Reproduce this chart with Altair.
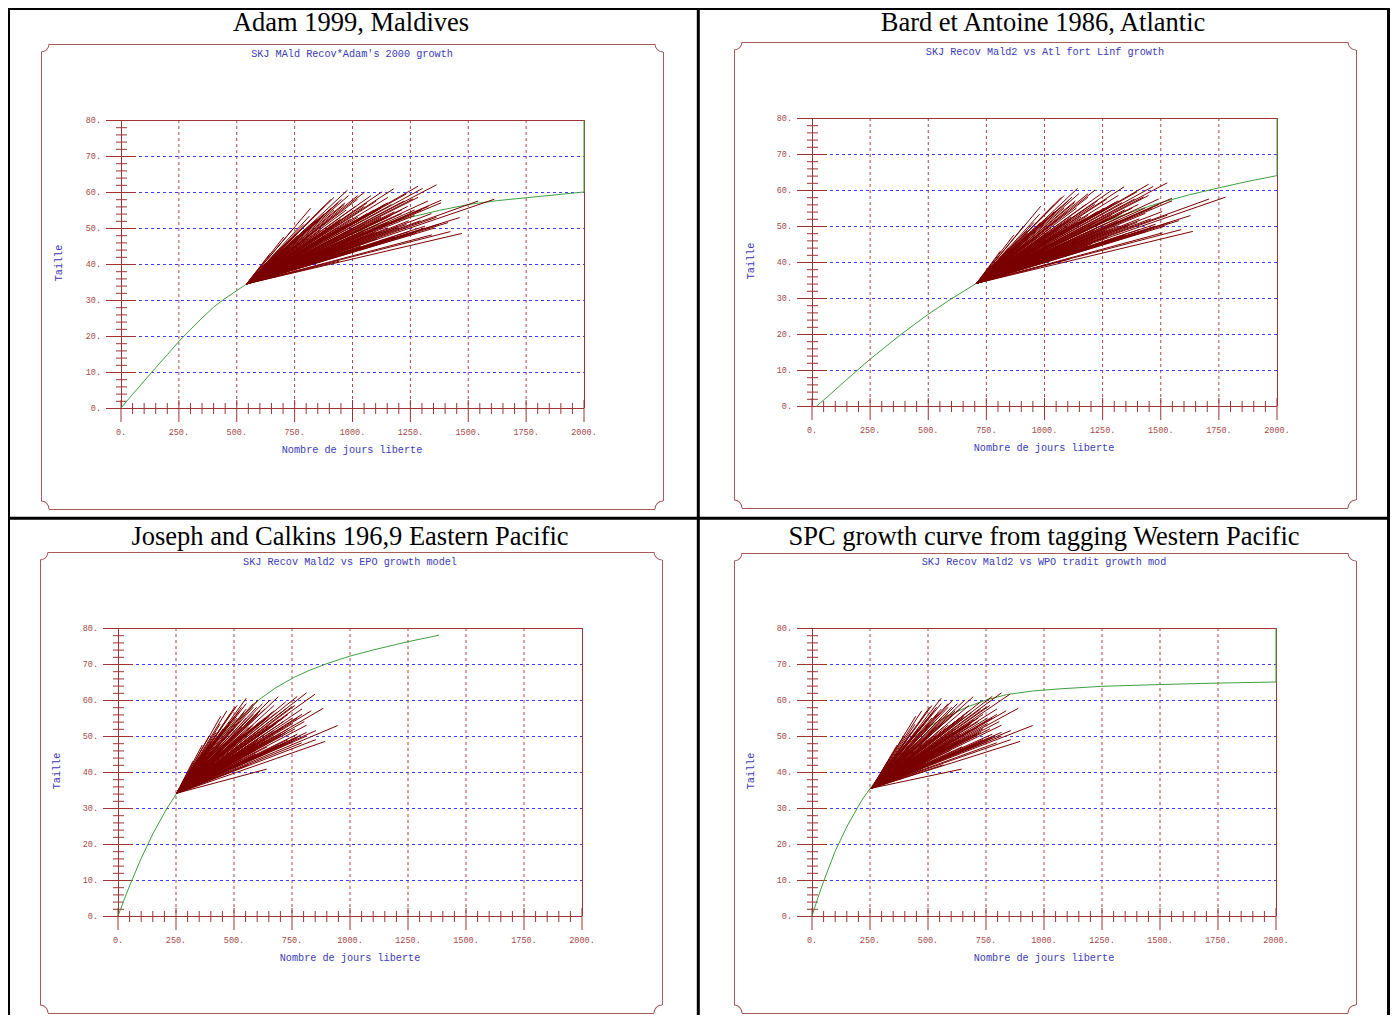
import altair as alt
import pandas as pd
import math

W, H = 1382, 1007
OX, OY = 8, 8           # page offset of the chart (image px -> chart px)
MONO = "Liberation Mono"
SERIF = "Liberation Serif"
AX = "#9c3434"
LBL = "#a44a4a"
BLUE_TXT = "#3a3ab8"
GRID_B = "#3a3aff"
GRID_R = "#a84848"
SEG = "#7a0000"
GREEN = "#3f9f3f"
FRAME = "#a65a5a"

# ---------------- texts ----------------
TITLES = ["Adam 1999, Maldives",
          "Bard et Antoine  1986, Atlantic",
          "Joseph and Calkins 196,9 Eastern Pacific",
          "SPC growth curve from tagging Western Pacific"]
SUBTITLES = ["SKJ MAld Recov*Adam's 2000 growth",
             "SKJ Recov Mald2 vs Atl fort Linf growth",
             "SKJ Recov Mald2 vs EPO growth model",
             "SKJ Recov Mald2 vs WPO tradit growth mod"]
X_LABEL = "Nombre de jours liberte"
Y_LABEL = "Taille"

X_TICKS = [0, 250, 500, 750, 1000, 1250, 1500, 1750, 2000]
X_TICK_LABELS = ["0.", "250.", "500.", "750.", "1000.", "1250.", "1500.", "1750.", "2000."]
X_MINOR = [v for v in range(0, 2001, 50) if v % 250 != 0]
Y_TICKS = [0, 10, 20, 30, 40, 50, 60, 70, 80]
Y_TICK_LABELS = ["0.", "10.", "20.", "30.", "40.", "50.", "60.", "70.", "80."]
Y_MINOR = [v for v in range(0, 81, 2) if v % 10 != 0]

# ---------------- growth curves ----------------
CURVE_X_1 = [0, 50, 100, 150, 200, 250, 300, 350, 400, 442, 500, 543, 600, 650, 750, 850,
             1000, 1100, 1250, 1375, 1508, 1625, 1750, 1875, 2000, 2000]
CURVE_L_1 = [0, 3.8, 7.5, 11.2, 14.8, 18.5, 21.8, 25, 28, 30.1, 32.6, 34.5, 36.7, 38.6, 42, 44.8,
             48.5, 50.5, 53, 54.9, 56.6, 57.6, 58.4, 59.2, 60, 80]
CURVE_X_2 = [20, 60, 100, 175, 250, 375, 500, 600, 708, 850, 1000, 1125, 1250, 1375, 1500,
             1625, 1750, 1875, 2000, 2000]
CURVE_L_2 = [0, 2.2, 4.5, 8.8, 13, 19.5, 25.5, 29.8, 34.1, 39.3, 44, 47.7, 51, 53.9, 56.5,
             58.7, 60.6, 62.4, 64, 80]
CURVE_X_3 = [0, 25, 50, 100, 150, 210, 253, 300, 350, 420, 497, 550, 612, 680, 756, 820, 900,
             1000, 1100, 1250, 1384]
CURVE_L_3 = [0, 4.3, 8.4, 16, 22.8, 29.8, 34.1, 38.5, 43, 48.3, 53.3, 56.5, 60.3, 63.4, 66.2,
             68.1, 70.1, 72.2, 73.9, 76.2, 78]
CURVE_X_4 = [0, 25, 50, 100, 150, 214, 257, 300, 350, 420, 500, 580, 667, 750, 839, 950, 1069,
             1250, 1500, 1750, 2000, 2000]
CURVE_L_4 = [0, 5, 9.6, 18, 24.8, 32.1, 36, 39.8, 44, 48.8, 52.5, 55.4, 58, 60, 61.5, 62.5, 63.1,
             63.8, 64.3, 64.7, 65, 80]
CURVES = [(CURVE_X_1, CURVE_L_1), (CURVE_X_2, CURVE_L_2),
          (CURVE_X_3, CURVE_L_3), (CURVE_X_4, CURVE_L_4)]

# ---------------- recaptures ----------------
FAN_ORIGIN_DAY = [543, 708, 253, 257]
FAN_ORIGIN_LEN = [34.5, 34.1, 34.1, 35.5]
RECAP_LEN = [57.0, 53.3, 48.7, 46, 44, 42, 40, 39, 43, 47.5,
             50, 51, 52, 53.5, 55, 56.5, 58, 59, 60, 60.9,
             58.1, 61.6, 57.7, 52.9, 48.1, 40.8, 42.0, 44, 46, 47,
             49, 50.5, 51.5, 52.5, 53.5, 55, 56, 54.5, 53, 52,
             51, 50, 49, 48, 47, 45.5, 44.5, 41.5, 42.5, 43.5,
             45, 46.5, 48, 50, 51.5, 49.5, 50, 55, 56, 54,
             52.5, 57, 57.5, 60.5, 58.5, 56, 55.5, 48.5, 47.5, 54,
             58, 57.5,
             45, 46.5, 47, 48, 49.5, 50.5, 51.5, 52.5, 53, 54,
             55.5, 56.5, 57.5, 58.5, 59.5, 61, 62, 60, 59, 58,
             44, 45, 46, 47, 48, 49, 50, 51, 52, 53,
             42.5, 43.5, 44.5, 45.5, 47, 48.5, 50.5, 51, 49, 48.5,
             41, 41, 40, 43, 38.5, 37.5, 41, 39.5, 52, 54,
             55, 56, 57, 57.5, 58.5,
             46, 47.5, 49, 50.5, 52, 53.5, 55, 56.5, 45, 46,
             47.5, 49, 50.5, 52, 53.5, 55, 48, 49.5, 51, 52.5,
             54, 55.5, 57, 58, 59, 43, 44, 45, 46, 47,
             50, 51, 52, 53, 54, 55, 56, 57, 49, 50]
DAYS_SLOW = [425, 271, 219, 174, 138, 116, 87, 73, 102, 160,
             203, 247, 309, 334, 377, 421, 479, 537, 583, 635,
             719, 740, 840, 920, 800, 400, 380, 363, 406, 560,
             508, 551, 609, 667, 725, 754, 696, 638, 580, 522,
             435, 392, 348, 305, 261, 218, 189, 145, 232, 290,
             493, 595, 682, 812, 870, 754, 653, 566, 508, 450,
             406, 609, 783, 435, 377, 334, 276, 551, 638, 798,
             1070, 1000,
             175, 200, 230, 275, 320, 365, 400, 450, 480, 520,
             580, 625, 680, 740, 690, 760, 820, 510, 440, 410,
             260, 320, 380, 440, 500, 560, 610, 690, 750, 820,
             330, 410, 480, 560, 630, 730, 770, 830, 880, 930,
             220, 320, 175, 200, 60, 45, 130, 100, 350, 390,
             430, 470, 520, 560, 610,
             290, 335, 380, 420, 465, 510, 550, 595, 365, 435,
             510, 580, 655, 700, 625, 670, 220, 250, 275, 305,
             335, 365, 395, 365, 480, 290, 350, 420, 495, 565,
             465, 510, 565, 610, 670, 725, 785, 840, 700, 770]
DAYS_FAST = [216, 187, 151, 120, 95, 80, 60, 50, 70, 110,
             140, 170, 200, 230, 260, 290, 330, 370, 402, 438,
             496, 596, 632, 694, 539, 388, 309, 250, 280, 320,
             350, 380, 420, 460, 500, 520, 480, 440, 400, 360,
             300, 270, 240, 210, 180, 150, 130, 100, 160, 200,
             340, 410, 470, 560, 600, 520, 450, 390, 350, 310,
             280, 420, 540, 300, 260, 230, 190, 380, 440, 550,
             345, 300,
             120, 140, 160, 190, 220, 250, 275, 310, 330, 360,
             400, 430, 470, 510, 470, 520, 560, 350, 300, 280,
             180, 220, 260, 300, 340, 380, 420, 470, 510, 560,
             230, 280, 330, 380, 430, 500, 520, 560, 600, 640,
             150, 220, 120, 140, 40, 30, 90, 70, 240, 270,
             300, 330, 360, 380, 420,
             200, 230, 260, 290, 320, 350, 380, 410, 250, 300,
             350, 400, 450, 480, 430, 460, 150, 170, 190, 210,
             230, 250, 270, 250, 330, 200, 240, 290, 340, 390,
             320, 350, 390, 420, 460, 500, 540, 580, 480, 530]
PANEL_DAYS = [DAYS_SLOW, DAYS_SLOW, DAYS_FAST, DAYS_FAST]

# ---------------- layout (image pixels) ----------------
LAYOUT = [
    dict(xr=[121, 584], yr=[408, 120], frame=(41, 44, 663, 509), title=(351, 23),
         sub=(352, 54), ylab=(59, 263), xlab=(352, 450)),
    dict(xr=[812, 1277], yr=[406, 118], frame=(734, 42, 1356, 508), title=(1043, 23),
         sub=(1045, 52), ylab=(751, 261), xlab=(1044, 448)),
    dict(xr=[118, 582], yr=[916, 628], frame=(40, 552, 662, 1013), title=(350, 537),
         sub=(350, 562), ylab=(57, 771), xlab=(350, 958)),
    dict(xr=[812, 1276], yr=[916, 628], frame=(734, 553, 1356, 1013), title=(1044, 537),
         sub=(1044, 562), ylab=(751, 771), xlab=(1044, 958)),
]

NONE_X = lambda f: alt.X(f, scale=None, axis=None)
NONE_Y = lambda f: alt.Y(f, scale=None, axis=None)
HP = 0.5   # half-pixel shift for crisp 1px lines


def cx(v):
    return v - OX


def cy(v):
    return v - OY


def panel_layers(i):
    L = LAYOUT[i]
    xl, xr = cx(L["xr"][0]), cx(L["xr"][1])
    yb, yt = cy(L["yr"][0]), cy(L["yr"][1])
    xs = alt.Scale(domain=[0, 2000], range=[xl, xr], nice=False, zero=False)
    ys = alt.Scale(domain=[0, 80], range=[yb, yt], nice=False, zero=False)
    out = []
    # grids
    out.append(alt.Chart(pd.DataFrame({"v": X_TICKS[1:-1]})).mark_rule(
        color=GRID_R, strokeDash=[3, 3], strokeWidth=1).encode(
        x=alt.X("v:Q", scale=xs, axis=None), y=alt.value(yt), y2=alt.value(yb)))
    out.append(alt.Chart(pd.DataFrame({"v": Y_TICKS[1:-1]})).mark_rule(
        color=GRID_B, strokeDash=[3, 3], strokeWidth=1, yOffset=HP).encode(
        y=alt.Y("v:Q", scale=ys, axis=None), x=alt.value(xl), x2=alt.value(xr)))
    # plot border
    box = pd.DataFrame({"x": [xl + HP, xl, xr + HP, xl], "x2": [xl + HP, xr, xr + HP, xr],
                        "y": [yt, yt + HP, yt, yb + HP], "y2": [yb, yt + HP, yb, yb + HP]})
    out.append(alt.Chart(box).mark_rule(color=AX, strokeWidth=1).encode(
        x=NONE_X("x:Q"), x2="x2:Q", y=NONE_Y("y:Q"), y2="y2:Q"))
    # y ticks
    out.append(alt.Chart(pd.DataFrame({"v": Y_TICKS})).mark_rule(
        color=AX, strokeWidth=1, yOffset=HP).encode(
        y=alt.Y("v:Q", scale=ys, axis=None), x=alt.value(xl - 15), x2=alt.value(xl + 15)))
    out.append(alt.Chart(pd.DataFrame({"v": Y_MINOR})).mark_rule(
        color=AX, strokeWidth=1, yOffset=HP).encode(
        y=alt.Y("v:Q", scale=ys, axis=None), x=alt.value(xl - 5), x2=alt.value(xl + 6)))
    # x ticks
    out.append(alt.Chart(pd.DataFrame({"v": X_TICKS})).mark_rule(color=AX, strokeWidth=1).encode(
        x=alt.X("v:Q", scale=xs, axis=None), y=alt.value(yb - 8), y2=alt.value(yb + 14)))
    out.append(alt.Chart(pd.DataFrame({"v": X_MINOR})).mark_rule(color=AX, strokeWidth=1).encode(
        x=alt.X("v:Q", scale=xs, axis=None), y=alt.value(yb - 5), y2=alt.value(yb + 6)))
    # tick labels
    out.append(alt.Chart(pd.DataFrame({"v": X_TICKS, "t": X_TICK_LABELS})).mark_text(
        font=MONO, fontSize=8.5, color=LBL, baseline="middle", align="center").encode(
        x=alt.X("v:Q", scale=xs, axis=None), y=alt.value(yb + 24), text="t:N"))
    out.append(alt.Chart(pd.DataFrame({"v": Y_TICKS, "t": Y_TICK_LABELS})).mark_text(
        font=MONO, fontSize=8.5, color=LBL, baseline="middle", align="right").encode(
        y=alt.Y("v:Q", scale=ys, axis=None), x=alt.value(xl - 20), text="t:N"))
    # growth curve
    gx, gl = CURVES[i]
    cdf = pd.DataFrame({"x": gx, "y": gl, "o": list(range(len(gx)))})
    out.append(alt.Chart(cdf).mark_line(color=GREEN, strokeWidth=1).encode(
        x=alt.X("x:Q", scale=xs, axis=None), y=alt.Y("y:Q", scale=ys, axis=None), order="o:Q"))
    # recapture segments
    days = PANEL_DAYS[i]
    n = len(days)
    sdf = pd.DataFrame({"x0": [FAN_ORIGIN_DAY[i]] * n, "y0": [FAN_ORIGIN_LEN[i]] * n,
                        "x1": [FAN_ORIGIN_DAY[i] + d for d in days], "y1": RECAP_LEN})
    out.append(alt.Chart(sdf).mark_rule(color=SEG, strokeWidth=1).encode(
        x=alt.X("x0:Q", scale=xs, axis=None), x2="x1:Q",
        y=alt.Y("y0:Q", scale=ys, axis=None), y2="y1:Q"))
    return out


# frames with notched corners
R = 8
frame_rows, arc_rows = [], []
for L in LAYOUT:
    x1, y1, x2, y2 = L["frame"]
    x1, x2, y1, y2 = cx(x1), cx(x2), cy(y1), cy(y2)
    frame_rows += [dict(x=x1 + R, x2=x2 - R, y=y1 + HP, y2=y1 + HP),
                   dict(x=x1 + R, x2=x2 - R, y=y2 + HP, y2=y2 + HP),
                   dict(x=x1 + HP, x2=x1 + HP, y=y1 + R, y2=y2 - R),
                   dict(x=x2 + HP, x2=x2 + HP, y=y1 + R, y2=y2 - R)]
    arc_rows += [dict(x=x1, y=y1, t=math.pi / 2, t2=math.pi),
                 dict(x=x2, y=y1, t=math.pi, t2=1.5 * math.pi),
                 dict(x=x2, y=y2, t=1.5 * math.pi, t2=2 * math.pi),
                 dict(x=x1, y=y2, t=0.0, t2=math.pi / 2)]

layers = []
layers.append(alt.Chart(pd.DataFrame(frame_rows)).mark_rule(color=FRAME, strokeWidth=1).encode(
    x=NONE_X("x:Q"), x2="x2:Q", y=NONE_Y("y:Q"), y2="y2:Q"))
layers.append(alt.Chart(pd.DataFrame(arc_rows)).mark_arc(color=FRAME, radius=R + 0.5, radius2=R - 0.5).encode(
    x=NONE_X("x:Q"), y=NONE_Y("y:Q"),
    theta=alt.Theta("t:Q", scale=None, stack=None), theta2="t2:Q"))

for i in range(4):
    layers += panel_layers(i)


def text_df(key, texts):
    return pd.DataFrame({"x": [cx(L[key][0]) for L in LAYOUT],
                         "y": [cy(L[key][1]) for L in LAYOUT], "t": texts})


layers.append(alt.Chart(text_df("title", TITLES)).mark_text(
    font=SERIF, fontSize=26.5, color="black", baseline="middle").encode(
    x=NONE_X("x:Q"), y=NONE_Y("y:Q"), text="t:N"))
layers.append(alt.Chart(text_df("sub", SUBTITLES)).mark_text(
    font=MONO, fontSize=10.2, color=BLUE_TXT, baseline="middle").encode(
    x=NONE_X("x:Q"), y=NONE_Y("y:Q"), text="t:N"))
layers.append(alt.Chart(text_df("xlab", [X_LABEL] * 4)).mark_text(
    font=MONO, fontSize=10.2, color=BLUE_TXT, baseline="middle").encode(
    x=NONE_X("x:Q"), y=NONE_Y("y:Q"), text="t:N"))
layers.append(alt.Chart(text_df("ylab", [Y_LABEL] * 4)).mark_text(
    font=MONO, fontSize=10.2, color=BLUE_TXT, baseline="middle", angle=270).encode(
    x=NONE_X("x:Q"), y=NONE_Y("y:Q"), text="t:N"))

# black outer frame and dividers
brows = [dict(x=0.5, x2=0.5, y=0, y2=H), dict(x=0, x2=W, y=0.5, y2=0.5),
         dict(x=W - 1.5, x2=W - 1.5, y=0, y2=H),
         dict(x=cx(698.3), x2=cx(698.3), y=0, y2=H),
         dict(x=0, x2=W, y=cy(518.3), y2=cy(518.3))]
layers.append(alt.Chart(pd.DataFrame(brows)).mark_rule(color="black", strokeWidth=3).encode(
    x=NONE_X("x:Q"), x2="x2:Q", y=NONE_Y("y:Q"), y2="y2:Q"))

chart = alt.layer(*layers).resolve_scale(x="independent", y="independent").properties(
    width=W, height=H, autosize=alt.AutoSizeParams(type="none"), padding=0,
    background="white").configure_view(strokeWidth=0)

chart.save("out.html", embed_options={"renderer": "svg", "actions": False})
